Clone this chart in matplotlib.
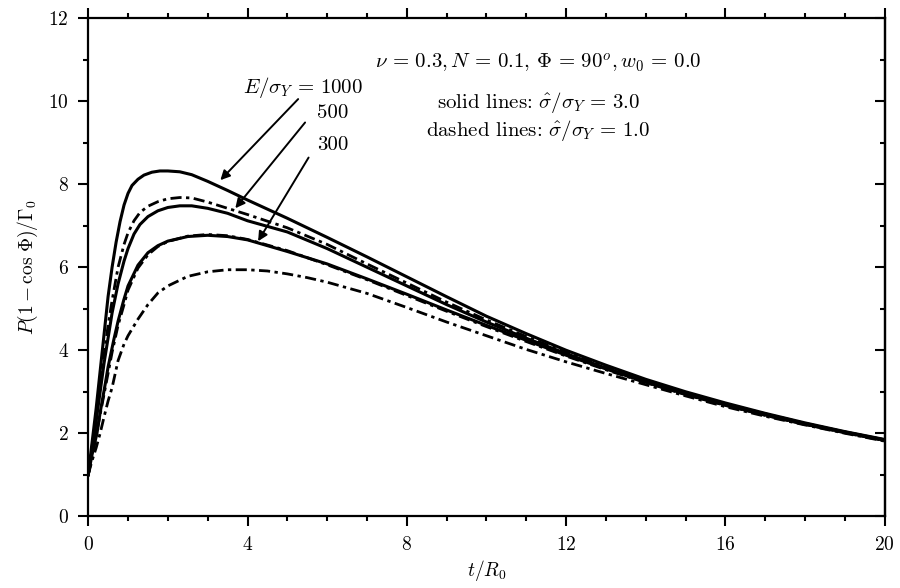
import matplotlib
matplotlib.use('Agg')
import matplotlib.pyplot as plt

plt.rcParams['font.family'] = 'serif'
plt.rcParams['font.serif'] = ['cmr10']
plt.rcParams['mathtext.fontset'] = 'cm'
plt.rcParams['axes.formatter.use_mathtext'] = True

# curves, t/R0 -> P(1-cos Phi)/Gamma0
t_1000s = [0, 0.1, 0.2, 0.3, 0.4, 0.5, 0.6, 0.7, 0.8, 0.9, 1.0, 1.1, 1.25, 1.4, 1.6, 1.8, 2.0, 2.3, 2.6, 3.0, 3.5, 4.0,
           5.0, 6.0, 7.0, 8.0, 9.0, 10, 11, 12, 13, 14, 15, 16, 17, 18, 19, 20]
y_1000s = [1.0, 1.8, 2.6, 3.5, 4.4, 5.3, 6.0, 6.6, 7.1, 7.5, 7.78, 7.97, 8.12, 8.22, 8.29, 8.32, 8.32, 8.3, 8.23, 8.07, 7.85, 7.62,
           7.18, 6.72, 6.25, 5.77, 5.29, 4.82, 4.40, 4.00, 3.64, 3.30, 3.00, 2.73, 2.48, 2.25, 2.04, 1.85]

t_1000d = [0, 0.1, 0.2, 0.3, 0.4, 0.5, 0.6, 0.75, 0.9, 1.0, 1.15, 1.3, 1.5, 1.75, 2.0, 2.3, 2.6, 3.0, 3.5, 4.0,
           5.0, 6.0, 7.0, 8.0, 9.0, 10, 11, 12, 13, 14, 15, 16, 17, 18, 19, 20]
y_1000d = [1.0, 1.7, 2.4, 3.2, 3.9, 4.6, 5.2, 6.0, 6.55, 6.83, 7.12, 7.32, 7.47, 7.58, 7.65, 7.68, 7.67, 7.57, 7.42, 7.27,
           6.95, 6.55, 6.08, 5.62, 5.16, 4.73, 4.33, 3.95, 3.60, 3.27, 2.98, 2.71, 2.47, 2.24, 2.03, 1.84]

t_500s = [0, 0.1, 0.2, 0.3, 0.4, 0.5, 0.6, 0.75, 0.9, 1.0, 1.15, 1.3, 1.5, 1.75, 2.0, 2.3, 2.6, 3.0, 3.5, 4.0,
          5.0, 6.0, 7.0, 8.0, 9.0, 10, 11, 12, 13, 14, 15, 16, 17, 18, 19, 20]
y_500s = [1.0, 1.6, 2.3, 3.0, 3.7, 4.3, 4.9, 5.6, 6.15, 6.45, 6.8, 7.03, 7.22, 7.36, 7.44, 7.48, 7.48, 7.42, 7.30, 7.12,
          6.85, 6.45, 6.00, 5.55, 5.10, 4.68, 4.29, 3.92, 3.57, 3.25, 2.96, 2.70, 2.46, 2.23, 2.03, 1.84]

t_500d = [0, 0.1, 0.2, 0.3, 0.4, 0.5, 0.6, 0.75, 0.9, 1.0, 1.25, 1.5, 1.75, 2.0, 2.5, 3.0, 3.5, 4.0,
          5.0, 6.0, 7.0, 8.0, 9.0, 10, 11, 12, 13, 14, 15, 16, 17, 18, 19, 20]
y_500d = [1.0, 1.45, 1.95, 2.45, 2.95, 3.45, 3.95, 4.6, 5.1, 5.45, 5.98, 6.3, 6.5, 6.62, 6.75, 6.79, 6.76, 6.67,
          6.40, 6.06, 5.70, 5.32, 4.94, 4.57, 4.21, 3.86, 3.53, 3.22, 2.93, 2.67, 2.43, 2.21, 2.01, 1.82]

t_300s = [0, 0.1, 0.22, 0.3, 0.43, 0.5, 0.64, 0.75, 0.89, 1.0, 1.25, 1.5, 1.75, 2.0, 2.5, 3.0, 3.5, 4.0,
          5.0, 6.0, 7.0, 8.0, 9.0, 10, 11, 12, 13, 14, 15, 16, 17, 18, 19, 20]
y_300s = [1.0, 1.5, 2.0, 2.5, 3.2, 3.6, 4.24, 4.7, 5.2, 5.55, 6.05, 6.35, 6.52, 6.63, 6.74, 6.77, 6.74, 6.66,
          6.38, 6.08, 5.72, 5.35, 4.97, 4.60, 4.24, 3.88, 3.55, 3.23, 2.94, 2.68, 2.44, 2.22, 2.02, 1.83]

t_300d = [0, 0.1, 0.2, 0.3, 0.4, 0.5, 0.6, 0.75, 0.9, 1.0, 1.25, 1.5, 1.75, 2.0, 2.5, 3.0, 3.5, 4.0,
          4.5, 5.0, 5.5, 6.0, 7.0, 8.0, 9.0, 10, 11, 12, 13, 14, 15, 16, 17, 18, 19, 20]
y_300d = [1.0, 1.35, 1.65, 2.0, 2.4, 2.78, 3.1, 3.75, 4.15, 4.35, 4.75, 5.1, 5.38, 5.55, 5.78, 5.89, 5.94, 5.94,
          5.91, 5.84, 5.75, 5.64, 5.37, 5.03, 4.68, 4.35, 4.02, 3.72, 3.44, 3.17, 2.90, 2.64, 2.41, 2.20, 2.00, 1.81]

fig = plt.figure(figsize=(9, 5.88), dpi=100)
ax = fig.add_axes([0.098, 0.122, 0.885, 0.847])

dashdot = (0, (4, 1.6, 1.2, 1.6))
ax.plot(t_1000s, y_1000s, 'k-', lw=2.2)
ax.plot(t_500s, y_500s, 'k-', lw=2.2)
ax.plot(t_300s, y_300s, 'k-', lw=2.2)
ax.plot(t_1000d, y_1000d, color='k', ls=dashdot, lw=2)
ax.plot(t_500d, y_500d, color='k', ls=dashdot, lw=2)
ax.plot(t_300d, y_300d, color='k', ls=dashdot, lw=2)

ax.set_xlim(0, 20)
ax.set_ylim(0, 12)
ax.set_xticks([0, 4, 8, 12, 16, 20])
ax.set_xticks(range(0, 21), minor=True)
ax.set_yticks([0, 2, 4, 6, 8, 10, 12])
ax.set_yticks(range(0, 13), minor=True)
ax.tick_params(which='both', direction='out', top=True, right=False, width=1.5, labelsize=14, pad=7)
ax.tick_params(which='major', length=7)
ax.tick_params(which='minor', length=3.5)
for s in ax.spines.values():
    s.set_linewidth(1.6)

# right side ticks point inwards
ax2 = ax.secondary_yaxis('right')
ax2.set_yticks([0, 2, 4, 6, 8, 10, 12])
ax2.set_yticks(range(0, 13), minor=True)
ax2.tick_params(which='both', direction='in', width=1.5, labelright=False)
ax2.tick_params(which='major', length=7)
ax2.tick_params(which='minor', length=3.5)
ax2.spines['right'].set_linewidth(1.6)

ax.set_xlabel(r'$t/R_0$', fontsize=14, labelpad=3)
ax.set_ylabel(r'$P(1-\cos\,\mathit{\Phi})/\mathit{\Gamma}_0$', fontsize=14, labelpad=6)

# labels and arrows
ax.text(3.89, 10.34, r'$E/\sigma_Y\,=\,1000$', fontsize=15, va='center')
ax.text(5.75, 9.71, '500', fontsize=15, va='center')
ax.text(5.75, 8.94, '300', fontsize=15, va='center')
arr = dict(arrowstyle='-|>', color='k', lw=1.4, mutation_scale=14)
ax.annotate('', xy=(3.27, 8.05), xytext=(5.32, 10.10), arrowprops=arr)
ax.annotate('', xy=(3.65, 7.37), xytext=(5.49, 9.54), arrowprops=arr)
ax.annotate('', xy=(4.23, 6.57), xytext=(5.57, 8.70), arrowprops=arr)

ax.text(11.3, 10.92, r'$\nu\,=\,0.3, N\,=\,0.1,\,\mathit{\Phi}\,=\,90^o, w_0\,=\,0.0$',
        fontsize=15, ha='center', va='center')
ax.text(11.3, 9.98, r'solid lines: $\hat{\sigma}/\sigma_Y\,=\,3.0$', fontsize=15, ha='center', va='center')
ax.text(11.3, 9.30, r'dashed lines: $\hat{\sigma}/\sigma_Y\,=\,1.0$', fontsize=15, ha='center', va='center')

fig.savefig('out.png', dpi=100)
